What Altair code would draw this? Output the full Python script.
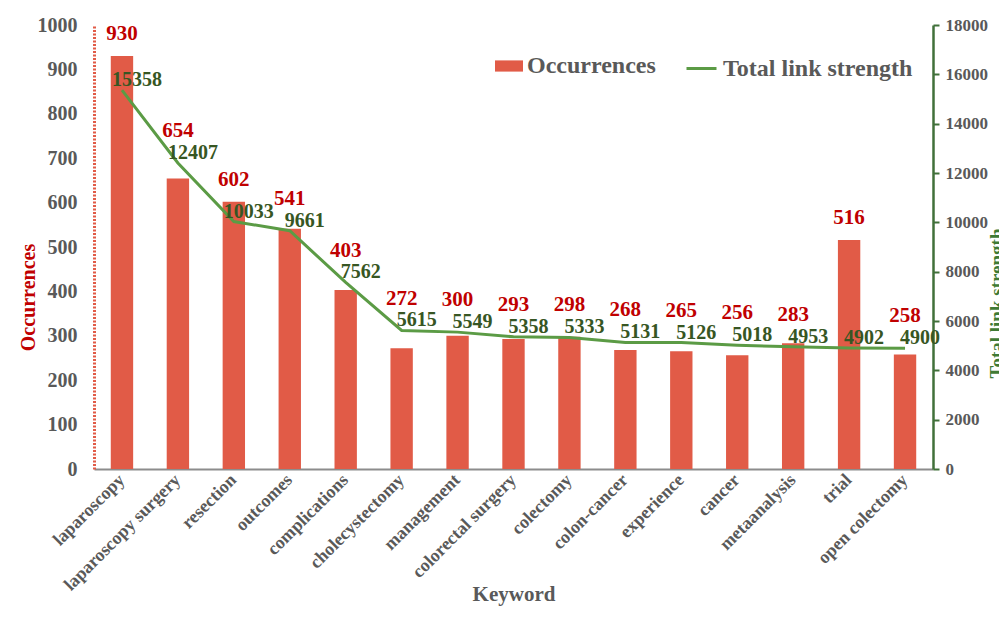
import altair as alt
import pandas as pd

keywords = ["laparoscopy", "laparoscopy surgery", "resection", "outcomes", "complications",
            "cholecystectomy", "management", "colorectal surgery", "colectomy", "colon-cancer",
            "experience", "cancer", "metaanalysis", "trial", "open  colectomy"]
occurrences = [930, 654, 602, 541, 403, 272, 300, 293, 298, 268, 265, 256, 283, 516, 258]
link_strength = [15358, 12407, 10033, 9661, 7562, 5615, 5549, 5358, 5333, 5131, 5126, 5018, 4953, 4902, 4900]
left_ticks = list(range(0, 1001, 100))
right_ticks = list(range(0, 18001, 2000))

df = pd.DataFrame({"keyword": keywords, "occurrences": occurrences, "link_strength": link_strength})

FONT = "Liberation Serif"
GRAY = "#595959"
BAR = "#E15B47"
LINE = "#5B9B45"
RED_TXT = "#C00000"
GREEN_TXT = "#375623"
AXIS_GREEN = "#41703A"

x = alt.X("keyword:N", sort=keywords,
          scale=alt.Scale(paddingInner=0.6, paddingOuter=0.3),
          axis=alt.Axis(title="Keyword", labelAngle=-45, labelAlign="right", labelBaseline="middle",
                        labelFont=FONT, labelFontSize=18, labelFontWeight="bold", labelColor=GRAY,
                        labelPadding=8, labelLimit=300, labelOverlap=False, ticks=False,
                        domainColor="#8C8C8C", domainWidth=2,
                        titleFont=FONT, titleFontSize=21, titleFontWeight="bold", titleColor=GRAY,
                        titleY=125, titleBaseline="middle"))

base = alt.Chart(df)

y_left = alt.Y("occurrences:Q", title="Occurrences",
               scale=alt.Scale(domain=[0, 1000]),
               axis=alt.Axis(values=left_ticks, format="d", grid=False, ticks=False,
                             labelFont=FONT, labelFontSize=20, labelFontWeight="bold", labelColor=GRAY,
                             labelPadding=17, labelFlush=False,
                             domainColor=BAR, domainWidth=3, domainDash=[2, 1.5],
                             titleFont=FONT, titleFontSize=20, titleFontWeight="bold", titleColor=RED_TXT,
                             titleAngle=270, titleX=-66, titleY=272, titleAlign="center",
                             titleBaseline="middle"))

bars = base.transform_calculate(s1="'Occurrences'").mark_bar().encode(
    x=x,
    y=y_left,
    color=alt.Color("s1:N", scale=alt.Scale(range=[BAR]),
                    legend=alt.Legend(orient="none", legendX=401, legendY=27, title=None,
                                      symbolType="M-1,-0.4H1V0.4H-1Z", symbolSize=784,
                                      symbolStrokeWidth=0, symbolOpacity=1,
                                      labelFont=FONT, labelFontSize=24, labelFontWeight="bold",
                                      labelColor=GRAY, labelOffset=4, padding=0, labelLimit=400)),
)

# red labels sit above whichever is higher: the bar top or the line
red = base.transform_calculate(
    pos="max(datum.occurrences + 50, datum.link_strength / 18 + 72)"
).mark_text(font=FONT, fontSize=21, fontWeight="bold", color=RED_TXT, baseline="middle").encode(
    x=x,
    y=alt.Y("pos:Q", title="Occurrences", scale=alt.Scale(domain=[0, 1000])),
    text="occurrences:Q",
)

line = base.transform_calculate(s2="'Total  link strength'").mark_line(strokeWidth=3).encode(
    x=x,
    y=alt.Y("link_strength:Q", title="Total  link strength",
            scale=alt.Scale(domain=[0, 18000]),
            axis=alt.Axis(orient="right", values=right_ticks, format="d", grid=False,
                          labelFont=FONT, labelFontSize=17, labelFontWeight="bold", labelColor=GRAY,
                          labelPadding=6, labelFlush=False,
                          domainColor=AXIS_GREEN, domainWidth=2.5,
                          tickColor=AXIS_GREEN, tickSize=6, tickWidth=2,
                          titleFont=FONT, titleFontSize=19, titleFontWeight="bold", titleColor="#3F7A34",
                          titleAngle=270, titleX=63, titleY=278, titleAlign="center",
                          titleBaseline="middle")),
    stroke=alt.Stroke("s2:N", scale=alt.Scale(range=[LINE]),
                      legend=alt.Legend(orient="none", legendX=591, legendY=27, title=None,
                                        symbolType="stroke", symbolSize=900, symbolStrokeWidth=3,
                                        labelFont=FONT, labelFontSize=24, labelFontWeight="bold",
                                        labelColor=GRAY, labelOffset=5, padding=0, labelLimit=400)),
)

green = base.mark_text(font=FONT, fontSize=20, fontWeight="bold", color=GREEN_TXT,
                       dx=15, dy=-10, baseline="middle").encode(
    x=x,
    y=alt.Y("link_strength:Q", title="Total  link strength", scale=alt.Scale(domain=[0, 18000])),
    text="link_strength:Q",
)

left = alt.layer(bars, red)
right = alt.layer(line, green)

chart = alt.layer(left, right).resolve_scale(y="independent").properties(
    width=839, height=444,
    padding={"left": 86, "top": 17, "right": 66, "bottom": 139},
    autosize=alt.AutoSizeParams(type="none"),
    background="white",
).configure_view(stroke=None)

chart.save("out.html", embed_options={"renderer": "svg", "actions": False})
